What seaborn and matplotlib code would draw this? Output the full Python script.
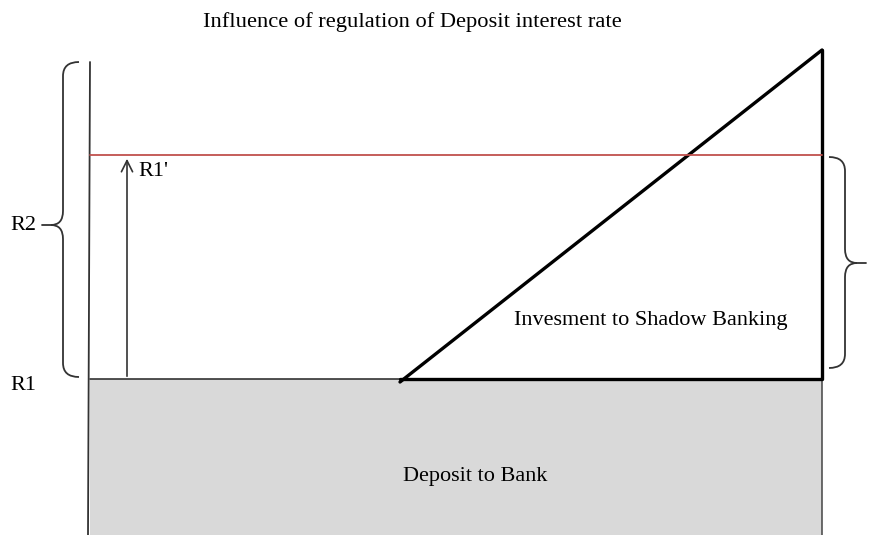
import numpy as np
import pandas as pd
import matplotlib.pyplot as plt
import seaborn as sns
from matplotlib.path import Path
from matplotlib.patches import PathPatch

# diagram coordinates (x to the right, y measured downwards from the top)
title = "Influence of regulation of Deposit interest rate"

axis_x = 90            # left vertical axis
right_x = 822          # right edge of the investment box
bottom_y = 535
r1_y = 379             # level R1
r1p_y = 155            # level R1' (regulated deposit rate)
axis_top_y = 62

diag_x = [400, 822]    # shadow banking line
diag_y = [382, 50]

arrow_x = 127

labels = ["R2", "R1", "R1'", "Invesment to Shadow Banking", "Deposit to Bank"]
label_x = [10, 10, 138, 651, 475]
label_y = [226, 385, 172, 320, 476]

left_brace = dict(x=63, y0=62, y1=377, tip=225, side=-1)
right_brace = dict(x=845, y0=157, y1=368, tip=263, side=1)

sns.set_theme(style="white")
plt.rcParams['font.family'] = ['Liberation Serif', 'DejaVu Serif']

fig = plt.figure(figsize=(8.79, 5.35), dpi=100)
ax = fig.add_axes([0, 0, 1, 1])
ax.set_xlim(0, 879)
ax.set_ylim(535, 0)
ax.axis('off')

# deposit to bank area
ax.fill_between([axis_x, right_x], r1_y, bottom_y, color='#d9d9d9', lw=0)

# left axis and right edge below R1
ax.plot([axis_x, axis_x - 2], [axis_top_y, bottom_y], color='#333333', lw=1.3)
ax.plot([right_x, right_x], [r1_y, bottom_y], color='#444444', lw=1.1)
ax.plot([axis_x, diag_x[0]], [r1_y, r1_y], color='#333333', lw=1.2)

# investment triangle
tri = pd.DataFrame({'x': diag_x, 'y': diag_y})
sns.lineplot(data=tri, x='x', y='y', ax=ax, color='black', lw=2.4, sort=False)
ax.plot([diag_x[0], right_x, right_x], [r1_y, r1_y, diag_y[1]], color='black', lw=2.4)

# regulated rate line
red = pd.DataFrame({'x': [axis_x, right_x], 'y': [r1p_y, r1p_y]})
sns.lineplot(data=red, x='x', y='y', ax=ax, color='#c0504d', lw=1.3)

# arrow R1 -> R1'
ax.annotate('', xy=(arrow_x, r1p_y + 1), xytext=(arrow_x, r1_y),
            arrowprops=dict(arrowstyle='->', color='#333333', lw=1.2,
                            mutation_scale=20))


def brace(ax, x, y0, y1, tip, side, curl=16, depth=12, r=14, tick=9):
    # side = direction the tip points (-1 left, +1 right)
    c = -side * curl
    t = side * depth
    verts = [
        (x + c, y0), (x, y0), (x, y0 + r),
        (x, tip - r),
        (x, tip), (x + t, tip),
        (x, tip), (x, tip + r),
        (x, y1 - r),
        (x, y1), (x + c, y1),
    ]
    codes = [Path.MOVETO, Path.CURVE3, Path.CURVE3,
             Path.LINETO,
             Path.CURVE3, Path.CURVE3,
             Path.CURVE3, Path.CURVE3,
             Path.LINETO,
             Path.CURVE3, Path.CURVE3]
    ax.add_patch(PathPatch(Path(verts, codes), fill=False, ec='#333333', lw=1.3))
    ax.plot([x + t, x + t + side * tick], [tip, tip], color='#333333', lw=1.3)


brace(ax, **left_brace)
brace(ax, **right_brace)

for s, x, y in zip(labels, label_x, label_y):
    ha = 'center' if len(s) > 3 else 'left'
    ax.text(x, y, s, ha=ha, va='center', fontsize=16, color='black')

ax.text(412, 22, title, ha='center', va='center', fontsize=16.2, color='black')

fig.savefig('out.png', dpi=100)
